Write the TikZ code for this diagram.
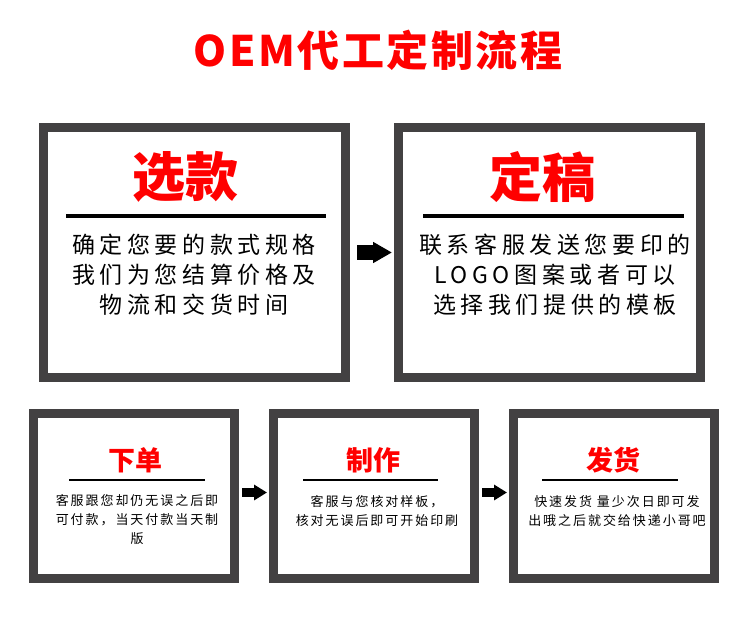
\documentclass[tikz,border=0pt]{standalone}
\usepackage{fontspec}
\usetikzlibrary{arrows.meta}
\newfontfamily\cjk{Noto Sans CJK SC}
\newfontfamily\cjkspaced[LetterSpace=20]{Noto Sans CJK SC}
\newfontfamily\cjksmall[LetterSpace=15]{Noto Sans CJK SC}
\newfontfamily\cjktitle[LetterSpace=6]{Noto Sans CJK SC}
\definecolor{bordergray}{HTML}{434142}
\definecolor{titlered}{HTML}{FF0000}
\tikzset{
  bigbox/.style={draw=bordergray, line width=9pt, fill=white, minimum width=302pt, minimum height=250pt, inner sep=0pt},
  smallbox/.style={draw=bordergray, line width=9pt, fill=white, minimum width=201pt, minimum height=165pt, inner sep=0pt},
  bighead/.style={text=titlered, font={\cjk\bfseries\fontsize{53pt}{60pt}\selectfont}, inner sep=0pt},
  smallhead/.style={text=titlered, font={\cjk\bfseries\fontsize{27pt}{30pt}\selectfont}, inner sep=0pt},
  bigbody/.style={align=center, font={\cjkspaced\fontsize{23pt}{30pt}\selectfont}, inner sep=0pt},
  smallbody/.style={align=center, font={\cjksmall\fontsize{13pt}{19pt}\selectfont}, inner sep=0pt},
  bigsep/.style={line width=3.5pt, black},
  smallsep/.style={line width=2.5pt, black},
  bigarrow/.style={line width=15pt, -{Triangle[width=20pt,length=19pt]}, shorten <=7pt, shorten >=2pt},
  smallarrow/.style={line width=9pt, -{Triangle[width=15pt,length=13pt]}, shorten <=3pt, shorten >=2pt},
}
\begin{document}
\begin{tikzpicture}[x=1pt,y=-1pt]
\useasboundingbox[fill=white] (0,0) rectangle (750,621);
% title
\node[text=titlered, font={\cjktitle\bfseries\fontsize{42pt}{46pt}\selectfont}, inner sep=0pt] (title) at (378,50) {OEM代工定制流程};
% big boxes
\node[bigbox] (b1) at (194.5,252.5) {};
\node[bigbox] (b2) at (549.5,252.5) {};
\node[bighead] (h1) at (185,177) {选款};
\node[bighead] (h2) at (542,177) {定稿};
\draw[bigsep] (66,216) -- (326,216);
\draw[bigsep] (423,216) -- (684,216);
\node[bigbody] (t1) at (194,275) {确定您要的款式规格\\我们为您结算价格及\\物流和交货时间};
\node[bigbody] (t2) at (555,275) {联系客服发送您要印的\\LOGO图案或者可以\\选择我们提供的模板};
\draw[bigarrow] (b1) -- (b2);
% small boxes
\node[smallbox] (s1) at (134,496) {};
\node[smallbox] (s2) at (374,496) {};
\node[smallbox] (s3) at (614,496) {};
\node[smallhead] (sh1) at (135,460) {下单};
\node[smallhead] (sh2) at (373.5,460) {制作};
\node[smallhead] (sh3) at (613.5,460) {发货};
\draw[smallsep] (69,480) -- (205,480);
\draw[smallsep] (303,480) -- (438,480);
\draw[smallsep] (542,480) -- (678,480);
\node[smallbody] (st1) at (137,520) {客服跟您却仍无误之后即\\可付款，当天付款当天制\\版};
\node[smallbody] (st2) at (377,511) {客服与您核对样板，\\核对无误后即可开始印刷};
\node[smallbody] (st3) at (617,511) {快速发货 量少次日即可发\\出哦之后就交给快递小哥吧};
\draw[smallarrow] ([yshift=3.5pt]s1.east) -- ([yshift=3.5pt]s2.west);
\draw[smallarrow] ([yshift=3.5pt]s2.east) -- ([yshift=3.5pt]s3.west);
\end{tikzpicture}
\end{document}
